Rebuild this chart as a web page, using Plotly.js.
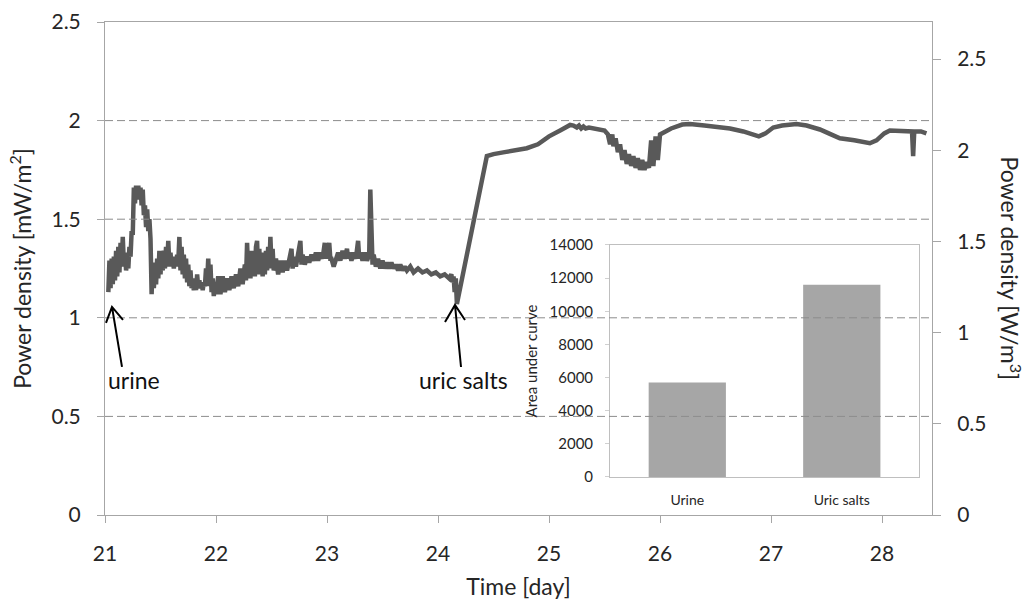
<!DOCTYPE html>
<html>
<head>
<meta charset="utf-8">
<script src="https://cdn.plot.ly/plotly-3.0.1.min.js"></script>
<style>
  html, body { margin: 0; padding: 0; background: #ffffff; }
  #chart { width: 1028px; height: 605px; }
</style>
</head>
<body>
<div id="chart"></div>
<script>
// ---- Main series: time (day) and power density (mW/m2) ----
const timeDay = [
  21.03,21.04,21.05,21.06,21.07,21.08,21.09,21.10,21.11,21.12,21.13,21.14,21.15,21.16,21.17,21.18,21.19,21.20,
  21.21,21.22,21.23,21.24,21.25,21.26,21.27,21.28,21.29,21.30,21.31,21.32,21.33,21.34,21.35,21.36,21.37,21.38,
  21.39,21.40,21.41,21.42,21.43,21.44,21.45,21.46,21.47,21.48,21.49,21.50,21.51,21.52,21.53,21.54,21.55,21.56,
  21.57,21.58,21.59,21.60,21.61,21.62,21.63,21.64,21.65,21.66,21.67,21.68,21.69,21.70,21.71,21.72,21.73,21.74,
  21.75,21.76,21.77,21.78,21.79,21.80,21.81,21.82,21.83,21.84,21.85,21.86,21.87,21.88,21.89,21.90,21.91,21.92,
  21.93,21.94,21.95,21.96,21.97,21.98,21.99,22.00,22.02,22.04,22.06,22.08,22.10,22.12,22.14,22.16,22.18,22.20,
  22.22,22.24,22.26,22.27,22.28,22.29,22.30,22.31,22.32,22.33,22.34,22.35,22.36,22.37,22.38,22.39,22.40,22.41,
  22.42,22.43,22.44,22.45,22.46,22.47,22.48,22.49,22.50,22.51,22.52,22.54,22.56,22.58,22.60,22.62,22.64,22.66,
  22.68,22.69,22.70,22.72,22.74,22.76,22.77,22.78,22.80,22.82,22.84,22.86,22.88,22.90,22.92,22.94,22.96,22.98,
  22.99,23.00,23.02,23.03,23.04,23.06,23.08,23.10,23.12,23.14,23.16,23.18,23.19,23.20,23.22,23.24,23.26,23.28,
  23.29,23.30,23.32,23.34,23.36,23.38,23.39,23.40,23.41,23.42,23.44,23.46,23.48,23.50,23.52,23.54,23.56,23.58,
  23.60,23.62,23.64,23.66,23.68,23.70,23.72,23.75,23.78,23.82,23.86,23.90,23.94,23.98,24.02,24.06,24.10,24.12,
  24.13,24.14,24.15,24.16,24.17,
  24.44,24.50,24.60,24.70,24.80,24.90,25.00,25.10,25.19,25.22,25.25,25.27,25.29,25.31,25.33,25.36,25.40,25.45,
  25.50,25.53,25.55,25.57,25.58,25.60,25.62,25.64,25.66,25.68,25.70,25.72,25.74,25.76,25.78,25.80,25.82,25.84,
  25.86,25.88,25.90,25.92,25.94,25.96,25.98,26.00,26.10,26.20,26.27,26.40,26.50,26.63,26.75,26.85,26.89,26.95,
  27.02,27.10,27.23,27.32,27.44,27.52,27.62,27.75,27.89,27.95,28.02,28.07,28.15,28.25,28.27,28.28,28.29,28.35,
  28.40
];
const powerDensity = [
  1.13,1.29,1.15,1.30,1.17,1.31,1.19,1.34,1.21,1.36,1.23,1.38,1.26,1.41,1.27,1.33,1.24,1.30,
  1.25,1.36,1.31,1.44,1.42,1.66,1.58,1.67,1.61,1.67,1.60,1.66,1.57,1.65,1.52,1.57,1.46,1.55,
  1.44,1.50,1.40,1.12,1.28,1.15,1.25,1.17,1.30,1.20,1.34,1.22,1.32,1.24,1.34,1.25,1.36,1.27,
  1.39,1.26,1.33,1.26,1.31,1.25,1.31,1.26,1.32,1.28,1.41,1.24,1.36,1.22,1.32,1.20,1.30,1.18,
  1.27,1.16,1.24,1.15,1.20,1.14,1.19,1.14,1.22,1.15,1.19,1.15,1.18,1.14,1.18,1.16,1.25,1.18,
  1.30,1.16,1.27,1.13,1.20,1.11,1.17,1.12,1.21,1.12,1.21,1.13,1.20,1.14,1.21,1.15,1.22,1.16,
  1.25,1.17,1.27,1.19,1.38,1.22,1.33,1.20,1.34,1.22,1.33,1.21,1.36,1.39,1.22,1.35,1.23,1.33,
  1.21,1.32,1.22,1.34,1.24,1.36,1.25,1.41,1.26,1.35,1.24,1.30,1.22,1.29,1.23,1.29,1.24,1.30,
  1.35,1.25,1.31,1.26,1.32,1.39,1.27,1.32,1.27,1.31,1.28,1.32,1.29,1.33,1.29,1.33,1.30,1.38,
  1.30,1.34,1.38,1.30,1.30,1.26,1.29,1.33,1.29,1.34,1.30,1.35,1.30,1.33,1.29,1.33,1.30,1.39,
  1.30,1.33,1.29,1.33,1.29,1.32,1.65,1.30,1.27,1.32,1.26,1.30,1.25,1.29,1.25,1.28,1.25,1.28,
  1.25,1.27,1.24,1.27,1.24,1.26,1.24,1.26,1.23,1.25,1.23,1.24,1.22,1.23,1.21,1.22,1.20,1.22,
  1.18,1.21,1.13,1.20,1.07,
  1.82,1.83,1.84,1.85,1.86,1.88,1.92,1.95,1.978,1.975,1.965,1.975,1.96,1.97,1.96,1.965,1.96,1.955,
  1.95,1.93,1.88,1.93,1.87,1.91,1.84,1.88,1.80,1.85,1.78,1.83,1.77,1.82,1.76,1.81,1.75,1.80,
  1.75,1.79,1.76,1.90,1.77,1.92,1.80,1.93,1.96,1.98,1.983,1.975,1.97,1.96,1.945,1.925,1.92,1.935,
  1.965,1.975,1.983,1.975,1.955,1.935,1.91,1.90,1.885,1.90,1.935,1.95,1.95,1.945,1.945,1.82,1.945,1.945,
  1.935
];

// ---- Inset bar chart ----
const insetCategories = ["Urine", "Uric salts"];
const insetArea = [5700, 11600];

// ---- Axis ticks ----
const leftTicks = [0, 0.5, 1, 1.5, 2, 2.5];
const rightTicks = [0, 0.5, 1, 1.5, 2, 2.5];
const dayTicks = [21, 22, 23, 24, 25, 26, 27, 28];
const insetTicks = [0, 2000, 4000, 6000, 8000, 10000, 12000, 14000];
const gridValues = [0.5, 1, 1.5, 2];

const FONT = "Lato, 'Open Sans', sans-serif";
const TXT = "#262626";
const AX = "#a6a6a6";

const traces = [
  {
    type: "scatter", mode: "lines",
    x: timeDay, y: powerDensity,
    line: { color: "#595959", width: 4.5 },
    xaxis: "x", yaxis: "y", hoverinfo: "skip"
  },
  {
    type: "scatter", mode: "lines", x: [21], y: [0],
    xaxis: "x", yaxis: "y2", line: { width: 0 }, showlegend: false, hoverinfo: "skip"
  },
  {
    type: "bar", x: insetCategories, y: insetArea,
    marker: { color: "#a6a6a6" },
    xaxis: "x3", yaxis: "y3", hoverinfo: "skip"
  }
];

const shapes = gridValues.map(v => ({
  type: "line", xref: "x domain", x0: 0, x1: 1, yref: "y", y0: v, y1: v,
  line: { color: "#8c8c8c", width: 1, dash: "8px,4px" }, layer: "above"
}));

// arrows (open chevron heads), drawn in pixel offsets around the arrow tip
shapes.push({
  type: "path", xref: "x", yref: "y", xsizemode: "pixel", ysizemode: "pixel",
  xanchor: 21.063, yanchor: 1.055,
  path: "M10,-60 L0,0 M-6,-16 L0,0 L11,-13",
  line: { color: "#000000", width: 2 }, layer: "above"
});
shapes.push({
  type: "path", xref: "x", yref: "y", xsizemode: "pixel", ysizemode: "pixel",
  xanchor: 24.153, yanchor: 1.065,
  path: "M6,-62 L0,0 M-10,-17 L0,0 L10,-15",
  line: { color: "#000000", width: 2 }, layer: "above"
});

const layout = {
  width: 1028, height: 605,
  margin: { l: 105, r: 96, t: 22, b: 90, pad: 0 },
  paper_bgcolor: "#ffffff", plot_bgcolor: "rgba(0,0,0,0)",
  showlegend: false,
  font: { family: FONT, color: TXT },
  xaxis: {
    domain: [0, 1], range: [21, 28.45], tickvals: dayTicks,
    showgrid: false, zeroline: false,
    showline: true, linecolor: AX, linewidth: 1, mirror: true,
    ticks: "outside", ticklen: 7, tickcolor: AX,
    tickfont: { size: 21, family: FONT, color: TXT },
    ticklabelstandoff: 13,
    title: { text: "Time [day]", font: { size: 23, family: FONT, color: TXT }, standoff: 14 }
  },
  yaxis: {
    domain: [0, 1], range: [0, 2.5], tickvals: leftTicks,
    showgrid: false, zeroline: false,
    showline: true, linecolor: AX, linewidth: 1,
    ticks: "outside", ticklen: 7, tickcolor: AX,
    tickfont: { size: 21, family: FONT, color: TXT },
    ticklabelstandoff: 12,
    title: { text: "Power density [mW/m<sup>2</sup>]", font: { size: 23, family: FONT, color: TXT }, standoff: 13 }
  },
  yaxis2: {
    overlaying: "y", side: "right", range: [0, 2.703], tickvals: rightTicks,
    showgrid: false, zeroline: false,
    showline: true, linecolor: AX, linewidth: 1,
    ticks: "outside", ticklen: 8, tickcolor: AX,
    tickfont: { size: 21, family: FONT, color: TXT },
    ticklabelstandoff: 12
  },
  xaxis3: {
    domain: [0.6107, 0.9843], anchor: "y3", range: [-0.5, 1.5],
    showgrid: false, zeroline: false,
    showline: true, linecolor: "#bfbfbf", linewidth: 1, mirror: true,
    ticks: "", tickfont: { size: 14, family: FONT, color: TXT },
    ticklabelstandoff: 10
  },
  yaxis3: {
    domain: [0.0771, 0.5477], anchor: "x3", range: [0, 14000], tickvals: insetTicks,
    tickformat: "d",
    showgrid: false, zeroline: false,
    showline: true, linecolor: "#bfbfbf", linewidth: 1, mirror: true,
    ticks: "outside", ticklen: 4, tickcolor: "#d0d0d0",
    tickfont: { size: 15, family: FONT, color: TXT },
    ticklabelstandoff: 9,
    title: { text: "Area under curve", font: { size: 15, family: FONT, color: TXT }, standoff: 8 }
  },
  bargap: 0.5,
  shapes: shapes,
  annotations: [
    { xref: "x", yref: "y", x: 21.26, y: 0.685, text: "urine", showarrow: false,
      font: { size: 23, family: FONT, color: "#111111" } },
    { xref: "x", yref: "y", x: 24.225, y: 0.685, text: "uric salts", showarrow: false,
      font: { size: 23, family: FONT, color: "#111111" } },
    { xref: "paper", yref: "paper", x: 1.0955, y: 0.5, text: "Power density [W/m<sup>3</sup>]",
      textangle: 90, showarrow: false, xanchor: "center", yanchor: "middle",
      font: { size: 23, family: FONT, color: TXT } }
  ]
};

Plotly.newPlot("chart", traces, layout, { staticPlot: true, displayModeBar: false });
</script>
</body>
</html>
